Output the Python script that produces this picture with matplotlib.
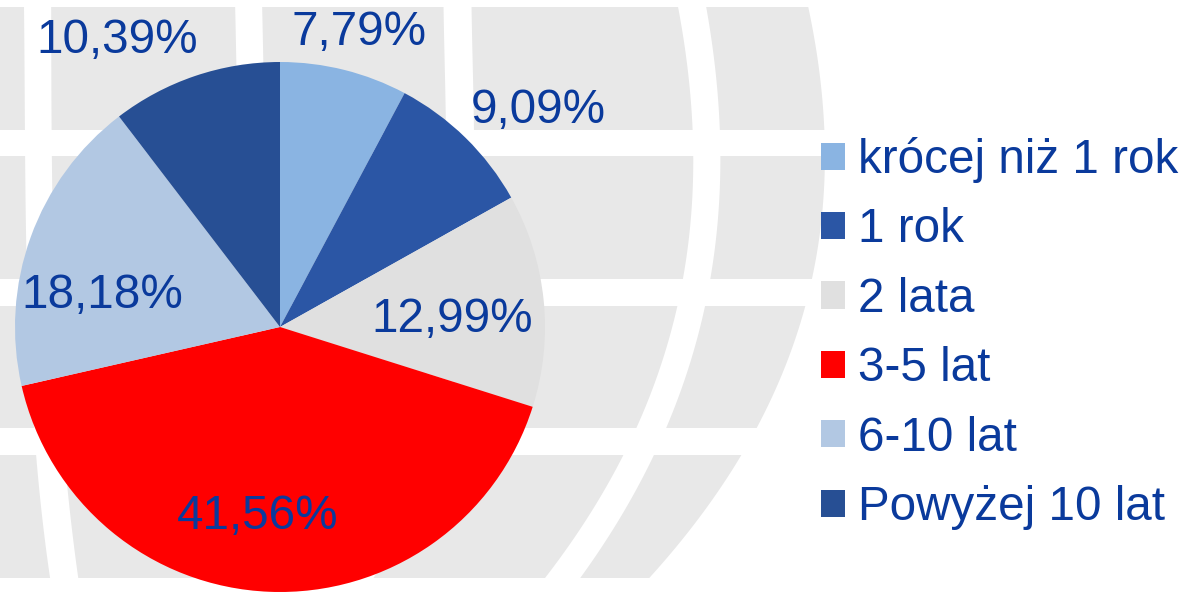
import numpy as np
import matplotlib.pyplot as plt

plt.rcParams['font.family'] = ['Liberation Sans', 'DejaVu Sans']

# data
categories = ['krócej niż 1 rok', '1 rok', '2 lata', '3-5 lat', '6-10 lat', 'Powyżej 10 lat']
shares = [7.79, 9.09, 12.99, 41.56, 18.18, 10.39]
pct_labels = ['7,79%', '9,09%', '12,99%', '41,56%', '18,18%', '10,39%']
colors = ['#8AB4E2', '#2B56A5', '#E0E0E0', '#FF0000', '#B2C8E3', '#274F94']
txt_color = '#0A3A9C'

W, H = 1185, 594
fig = plt.figure(figsize=(W / 100, H / 100), dpi=100)
ax = fig.add_axes([0, 0, 1, 1])

# --- background globe (decoration); pixel coords, y measured from the top
bg = '#E8E8E8'
rows = [(7, 130), (156, 279), (306, 428), (455, 578)]
ys_m = [7, 130, 156, 279, 306, 428, 455, 578]
# meridian gaps: (left edge, right edge) sampled at ys_m
gaps = [
    ([24, 25, 25, 27, 28, 33, 37, 50], [51, 52, 52, 54, 55, 61, 66, 78]),
    ([235, 238, 238, 240, 240, 244, 245, 250], [262, 265, 265, 267, 267, 271, 272, 277]),
    ([443, 447, 447, 440, 437, 415, 405, 345], [471, 475, 475, 468, 465, 443, 433, 373]),
    ([678, 693, 693, 683, 677, 637, 623, 545], [706, 720, 721, 710, 704, 667, 654, 580]),
]
outer = [808, 825, 825, 812, 804, 757, 742, 649]


def smooth(vals):
    p = np.polyfit(ys_m, vals, 3)
    return lambda y: np.polyval(p, y)


left_edges = [lambda y: np.full_like(y, -20.0)] + [smooth(g[1]) for g in gaps]
right_edges = [smooth(g[0]) for g in gaps] + [smooth(outer)]

for (y0, y1) in rows:
    yy = np.linspace(y0, y1, 40)
    for fl, fr in zip(left_edges, right_edges):
        px = np.concatenate([fl(yy), fr(yy)[::-1]])
        py = H - np.concatenate([yy, yy[::-1]])
        ax.fill(px, py, color=bg, lw=0, zorder=0)

# --- pie
cx, cy, R = 280, H - 327, 265
wedges, _ = ax.pie(shares, colors=colors, startangle=90, counterclock=False,
                   center=(cx, cy), radius=R, wedgeprops=dict(lw=0))
for w in wedges:
    w.set_zorder(2)

# label placement: radial factor and small angle tweak per slice
lab_r = [1.15, 1.27, 0.65, 0.72, 0.68, 1.245]
lab_da = [-1.0, -5.6, -3.5, -4.3, 9.8, 10.9]
for w, lab, fr, da in zip(wedges, pct_labels, lab_r, lab_da):
    ang = np.deg2rad((w.theta1 + w.theta2) / 2 + da)
    ax.text(cx + fr * R * np.cos(ang), cy + fr * R * np.sin(ang), lab,
            ha='center', va='center', fontsize=34.3, color=txt_color, zorder=3)

leg = ax.legend(wedges, categories, loc='upper left',
                bbox_to_anchor=(821 / W, 1 - 137 / H), bbox_transform=fig.transFigure,
                frameon=False, fontsize=34.3, borderpad=0, borderaxespad=0,
                handlelength=0.5, handleheight=0.5, handletextpad=0.27,
                labelspacing=0.513, labelcolor=txt_color)

ax.set_xlim(0, W)
ax.set_ylim(0, H)
ax.set_aspect('auto')
ax.axis('off')

fig.savefig('out.png', dpi=100)
